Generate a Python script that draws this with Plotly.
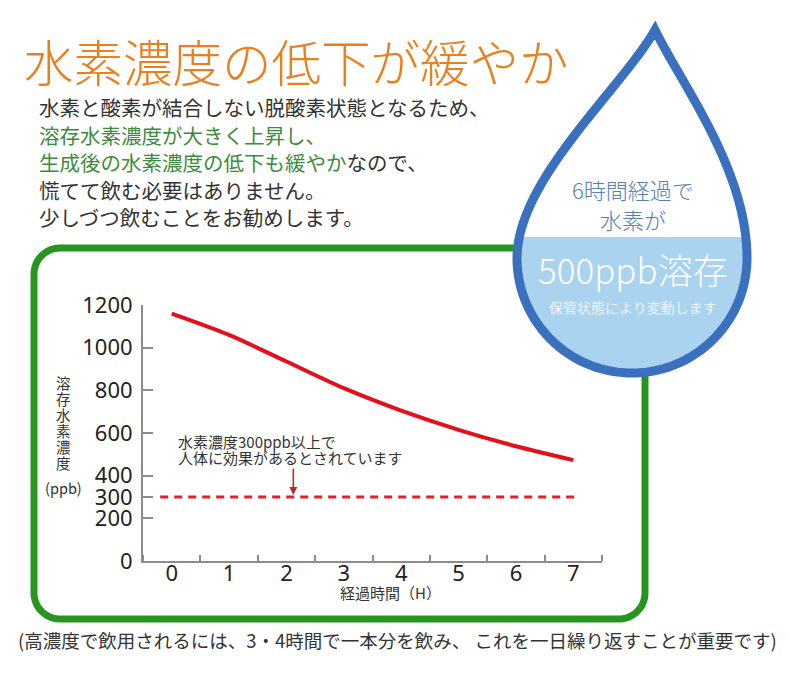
import plotly.graph_objects as go

W, H = 790, 686

# chart data
hours = [0, 1, 2, 3, 4, 5, 6, 7]
h2_ppb = [1160, 1060, 935, 810, 705, 615, 538, 473]
threshold_x = [-0.2, 7.1]
threshold_ppb = [300, 300]
y_ticks = [0, 200, 300, 400, 600, 800, 1000, 1200]
x_ticks = [0, 1, 2, 3, 4, 5, 6, 7]
x_bounds = [-0.5, 0.5, 1.5, 2.5, 3.5, 4.5, 5.5, 6.5, 7.5]

# texts
title = "水素濃度の低下が緩やか"
GREEN_TXT = "#3d8b3d"
body_lines = [
    "水素と酸素が結合しない脱酸素状態となるため、",
    f"<span style='color:{GREEN_TXT}'>溶存水素濃度が大きく上昇し、</span>",
    f"<span style='color:{GREEN_TXT}'>生成後の水素濃度の低下も緩やか</span>なので、",
    "慌てて飲む必要はありません。",
    "少しづつ飲むことをお勧めします。",
]
note_lines = ["水素濃度300ppb以上で", "人体に効果があるとされています"]
y_title_chars = list("溶存水素濃度")
footnote = "(高濃度で飲用されるには、3・4時間で一本分を飲み、 これを一日繰り返すことが重要です)"

FONT = "Noto Sans CJK JP"
THIN = "Noto Sans CJK JP Light, Noto Sans CJK JP"
OFF = 8  # page offset of the plot div


def px(x):
    return (x - OFF) / W


def py(y):
    return 1 - (y - OFF) / H


def path_from(points, close=True):
    s = "M " + " L ".join(f"{px(x):.5f},{py(y):.5f}" for x, y in points)
    return s + (" Z" if close else "")


def bezier(p0, p1, p2, p3, n=40):
    pts = []
    for i in range(n + 1):
        t = i / n
        a, b, c, d = (1 - t) ** 3, 3 * (1 - t) ** 2 * t, 3 * (1 - t) * t ** 2, t ** 3
        pts.append((a * p0[0] + b * p1[0] + c * p2[0] + d * p3[0],
                    a * p0[1] + b * p1[1] + c * p2[1] + d * p3[1]))
    return pts


def clip_below(points, yc):
    out = []
    n = len(points)
    for i in range(n):
        cur, nxt = points[i], points[(i + 1) % n]
        cin, nin = cur[1] >= yc, nxt[1] >= yc
        if cin:
            out.append(cur)
        if cin != nin:
            t = (yc - cur[1]) / (nxt[1] - cur[1])
            out.append((cur[0] + t * (nxt[0] - cur[0]), yc))
    return out


# water drop outline (pixel coords)
cx, cy, r, k = 632, 258, 115, 0.5523
tip = (655, 30)
drop = []
drop += bezier(tip, (622, 88), (cx - r, 180), (cx - r, cy))
drop += bezier((cx - r, cy), (cx - r, cy + k * r), (cx - k * r, cy + r), (cx, cy + r))[1:]
drop += bezier((cx, cy + r), (cx + k * r, cy + r), (cx + r, cy + k * r), (cx + r, cy))[1:]
drop += bezier((cx + r, cy), (cx + r, 170), (682, 85), tip)[1:-1]
water = clip_below(drop, 237)

# green rounded frame
gx0, gx1, gy0, gy1, gr = 34, 645, 248, 619, 26
frame = []
frame += bezier((gx0, gy0 + gr), (gx0, gy0 + gr - k * gr), (gx0 + gr - k * gr, gy0), (gx0 + gr, gy0), 12)
frame += bezier((gx1 - gr, gy0), (gx1 - gr + k * gr, gy0), (gx1, gy0 + gr - k * gr), (gx1, gy0 + gr), 12)
frame += bezier((gx1, gy1 - gr), (gx1, gy1 - gr + k * gr), (gx1 - gr + k * gr, gy1), (gx1 - gr, gy1), 12)
frame += bezier((gx0 + gr, gy1), (gx0 + gr - k * gr, gy1), (gx0, gy1 - gr + k * gr), (gx0, gy1 - gr), 12)

fig = go.Figure()

fig.add_trace(go.Scatter(
    x=threshold_x, y=threshold_ppb, mode="lines",
    line=dict(color="#e0202a", width=3, dash="8px,6px"),
    hoverinfo="skip"
))
fig.add_trace(go.Scatter(
    x=hours, y=h2_ppb, mode="lines",
    line=dict(color="#e3101b", width=4, shape="spline", smoothing=0.8),
))

shapes = [
    dict(type="path", xref="paper", yref="paper", path=path_from(frame),
         line=dict(color="#27951f", width=7), fillcolor="rgba(0,0,0,0)", layer="below"),
    dict(type="path", xref="paper", yref="paper", path=path_from(drop),
         line=dict(width=0), fillcolor="white", layer="above"),
    dict(type="path", xref="paper", yref="paper", path=path_from(water),
         line=dict(width=0), fillcolor="#a9d3ef", layer="above"),
    dict(type="path", xref="paper", yref="paper", path=path_from(drop),
         line=dict(color="#3a70bd", width=9), fillcolor="rgba(0,0,0,0)", layer="above"),
]

ann = []


def text(x, y, s, size, color="#333333", anchor="left", family=FONT):
    ann.append(dict(xref="paper", yref="paper", x=px(x), y=py(y), text=s,
                    showarrow=False, xanchor=anchor, yanchor="middle",
                    font=dict(family=family, size=size, color=color)))


text(22, 60, title, 49.5, "#ea7f1c", family=THIN)
for i, line in enumerate(body_lines):
    text(37, 107 + i * 27.5, line, 20.5)

text(633, 189, "6時間経過で", 22, "#5680b6", "center", family=THIN)
text(633, 219, "水素が", 22, "#5680b6", "center", family=THIN)
text(633, 268, "500ppb溶存", 35, "white", "center", family=THIN)
text(633, 307, "保管状態により変動します", 14, "#eef6fc", "center")

text(176, 441, note_lines[0], 15)
text(176, 457, note_lines[1], 15)

for i, ch in enumerate(y_title_chars):
    text(63, 382 + i * 16, ch, 14.5, anchor="center")
text(63, 487, "(ppb)", 14.5, anchor="center")
text(390, 592, "経過時間（H）", 15, anchor="center")

text(397, 640, footnote, 18.5, anchor="center")

ann.append(dict(x=2.12, y=300, xref="x", yref="y", ax=0, ay=-30, text="",
                showarrow=True, arrowhead=2, arrowsize=1, arrowwidth=1.6,
                arrowcolor="#c0262c", standoff=2))

fig.update_layout(
    width=W, height=H,
    margin=dict(l=0, r=0, t=0, b=0, autoexpand=False),
    paper_bgcolor="white", plot_bgcolor="rgba(0,0,0,0)",
    showlegend=False,
    shapes=shapes, annotations=ann,
    font=dict(family=FONT),
    xaxis=dict(
        domain=[px(143), px(602)], range=[-0.5, 7.5],
        showgrid=False, zeroline=False, automargin=False,
        showline=True, linecolor="#8c8c8c", linewidth=2,
        tickvals=x_ticks, ticks="", ticklabelstandoff=-8,
        tickfont=dict(family="Noto Sans", size=22, color="#222"),
        minor=dict(tickvals=x_bounds, ticks="inside", ticklen=6, tickwidth=2, tickcolor="#8c8c8c"),
    ),
    yaxis=dict(
        domain=[py(561), py(305)], range=[0, 1200],
        showgrid=False, zeroline=False, automargin=False,
        showline=True, linecolor="#8c8c8c", linewidth=2,
        tickvals=y_ticks, ticks="inside", ticklen=10, tickwidth=2, tickcolor="#8c8c8c",
        ticklabelstandoff=4,
        tickfont=dict(family="Noto Sans", size=22, color="#222"),
    ),
)

fig.write_html("out.html")
